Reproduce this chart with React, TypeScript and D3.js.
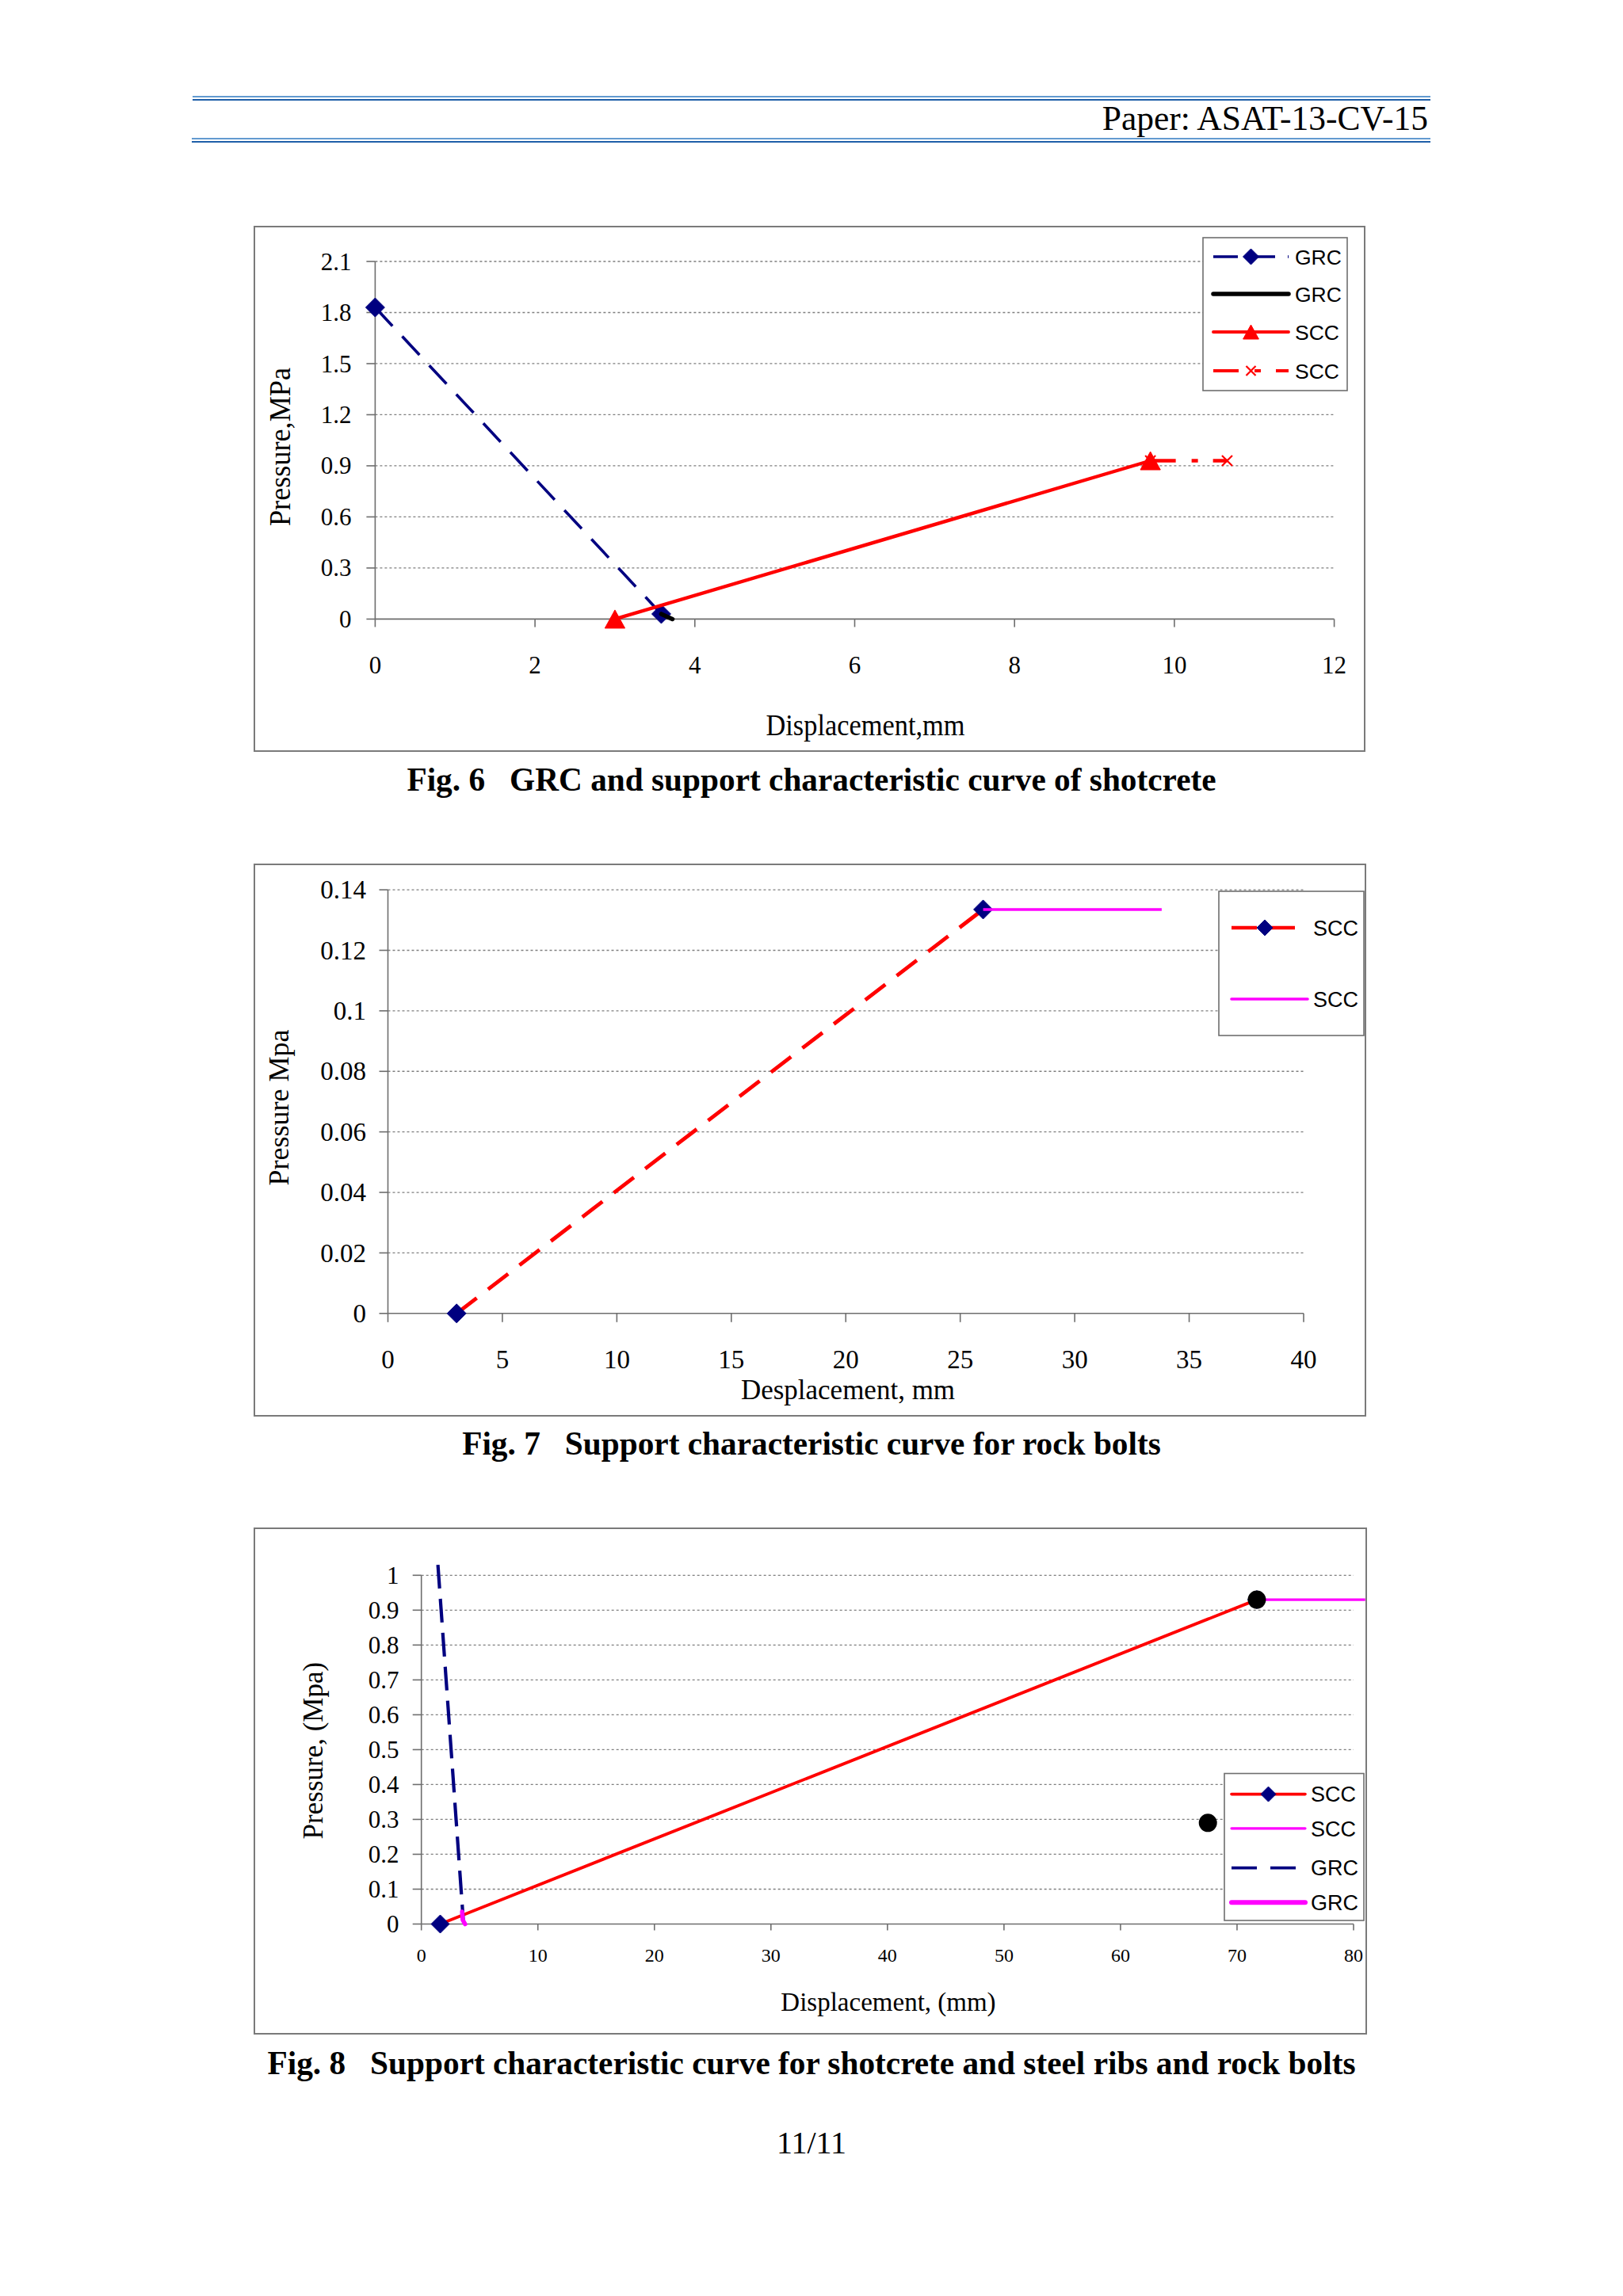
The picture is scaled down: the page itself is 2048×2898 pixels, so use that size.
import * as d3 from "d3";
import React from "react";

const SERIF = "'Liberation Serif', 'Times New Roman', serif";
const SANS = "'Liberation Sans', Arial, sans-serif";
const NAVY = "#000080";
const RED = "#ff0000";
const MAGENTA = "#ff00ff";

// ---- Fig. 6 data
const fig6XTicks = [0, 2, 4, 6, 8, 10, 12];
const fig6YTicks = [0, 0.3, 0.6, 0.9, 1.2, 1.5, 1.8, 2.1];
const fig6GrcX = [0, 3.58];
const fig6GrcY = [1.83, 0.03];
const fig6GrcTailX = [3.58, 3.72];
const fig6GrcTailY = [0.03, 0];
const fig6SccX = [3, 9.7];
const fig6SccY = [0, 0.93];
const fig6SccCapX = [9.7, 10.66];
const fig6SccCapY = [0.93, 0.93];
const fig6Labels = ["GRC", "GRC", "SCC", "SCC"];

// ---- Fig. 7 data
const fig7XTicks = [0, 5, 10, 15, 20, 25, 30, 35, 40];
const fig7YTicks = [0, 0.02, 0.04, 0.06, 0.08, 0.1, 0.12, 0.14];
const fig7SccX = [3, 26];
const fig7SccY = [0, 0.1335];
const fig7PlateauX = [26, 33.8];
const fig7PlateauY = [0.1335, 0.1335];
const fig7Labels = ["SCC", "SCC"];

// ---- Fig. 8 data
const fig8XTicks = [0, 10, 20, 30, 40, 50, 60, 70, 80];
const fig8YTicks = [0, 0.1, 0.2, 0.3, 0.4, 0.5, 0.6, 0.7, 0.8, 0.9, 1];
const fig8SccX = [1.62, 71.7];
const fig8SccY = [0, 0.93];
const fig8PlateauX = [71.7, 81];
const fig8PlateauY = [0.93, 0.93];
const fig8GrcX = [1.42, 3.6];
const fig8GrcY = [1.03, 0.01];
const fig8GrcTailX = [3.5, 3.55, 3.75];
const fig8GrcTailY = [0.035, 0.012, 0];
const fig8DotX = [71.7, 67.5];
const fig8DotY = [0.93, 0.29];
const fig8Labels = ["SCC", "SCC", "GRC", "GRC"];

type Marker = "diamond" | "triangle" | "cross";

type Series = {
  xs: number[];
  ys: number[];
  color: string;
  width: number;
  dash?: string;
  cap?: "butt" | "round";
  marker?: Marker;
  markerColor?: string;
  markerSize?: number;
};

type LegendItem = {
  label: string;
  color: string;
  width: number;
  dash?: string;
  cap?: "butt" | "round";
  marker?: Marker;
  markerColor?: string;
  markerSize?: number;
  y: number;
  x0: number;
  x1: number;
};

type Title = { text: string; x: number; y: number; size: number; length?: number };

type ChartProps = {
  box: { x: number; y: number; w: number; h: number };
  xDomain: [number, number];
  yDomain: [number, number];
  xPx: [number, number];
  yPx: [number, number];
  xTicks: number[];
  yTicks: number[];
  xTickLen: number;
  yTickLen: number;
  xTickFont: number;
  xTickBase: number;
  yTickFont: number;
  yTickRight: number;
  xTitle: Title;
  yTitle: Title;
  series: Series[];
  dots?: { xs: number[]; ys: number[]; r: number };
  legend: { x: number; y: number; w: number; h: number; textX: number; font: number; items: LegendItem[] };
  caption: { text: string; y: number };
};

function markerPath(type: Marker, cx: number, cy: number, s: number) {
  const p = d3.path();
  if (type === "diamond") {
    p.moveTo(cx, cy - s);
    p.lineTo(cx + s, cy);
    p.lineTo(cx, cy + s);
    p.lineTo(cx - s, cy);
    p.closePath();
  } else if (type === "triangle") {
    const w = s * 1.1;
    p.moveTo(cx, cy - s);
    p.lineTo(cx + w, cy + s);
    p.lineTo(cx - w, cy + s);
    p.closePath();
  } else {
    p.moveTo(cx - s, cy - s);
    p.lineTo(cx + s, cy + s);
    p.moveTo(cx + s, cy - s);
    p.lineTo(cx - s, cy + s);
  }
  return p.toString();
}

function MarkerShape({ type, cx, cy, size, color }: { type: Marker; cx: number; cy: number; size: number; color: string }) {
  if (type === "cross") {
    return <path d={markerPath(type, cx, cy, size)} stroke={color} strokeWidth={2.2} fill="none" />;
  }
  return <path d={markerPath(type, cx, cy, size)} fill={color} stroke={color} strokeWidth={1} />;
}

function Chart(props: ChartProps) {
  const { box, xTicks, yTicks, series, legend } = props;
  const x = d3.scaleLinear().domain(props.xDomain).range(props.xPx);
  const y = d3.scaleLinear().domain(props.yDomain).range(props.yPx);
  const x0 = x(props.xDomain[0]);
  const xEnd = x(props.xDomain[1]);
  const y0 = y(props.yDomain[0]);
  const yTop = y(props.yDomain[1]);

  const line = (s: Series) =>
    d3
      .line<number>()
      .x((_, i) => x(s.xs[i]))
      .y((_, i) => y(s.ys[i]))(s.xs) ?? "";

  return (
    <g>
      <rect x={box.x} y={box.y} width={box.w} height={box.h} fill="#fff" stroke="#7a7a7a" strokeWidth={2} />

      {/* gridlines */}
      {yTicks
        .filter((v) => v !== props.yDomain[0])
        .map((v) => (
          <line key={`g${v}`} x1={x0} x2={xEnd} y1={y(v)} y2={y(v)} stroke="#7f7f7f" strokeWidth={1.3} strokeDasharray="3 3" />
        ))}

      {/* axes */}
      <line x1={x0} x2={x0} y1={y0} y2={yTop} stroke="#6e6e6e" strokeWidth={1.6} />
      <line x1={x0} x2={xEnd} y1={y0} y2={y0} stroke="#6e6e6e" strokeWidth={1.6} />
      {yTicks.map((v) => (
        <line key={`yt${v}`} x1={x0 - props.yTickLen} x2={x0} y1={y(v)} y2={y(v)} stroke="#6e6e6e" strokeWidth={1.6} />
      ))}
      {xTicks.map((v) => (
        <line key={`xt${v}`} x1={x(v)} x2={x(v)} y1={y0} y2={y0 + props.xTickLen} stroke="#6e6e6e" strokeWidth={1.6} />
      ))}

      {/* tick labels */}
      {yTicks.map((v) => (
        <text
          key={`yl${v}`}
          x={props.yTickRight}
          y={y(v) + props.yTickFont * 0.34}
          textAnchor="end"
          fontFamily={SERIF}
          fontSize={props.yTickFont}
        >
          {String(v)}
        </text>
      ))}
      {xTicks.map((v) => (
        <text key={`xl${v}`} x={x(v)} y={props.xTickBase} textAnchor="middle" fontFamily={SERIF} fontSize={props.xTickFont}>
          {String(v)}
        </text>
      ))}

      {/* series */}
      {series.map((s, i) => (
        <g key={`s${i}`}>
          <path
            d={line(s)}
            fill="none"
            stroke={s.color}
            strokeWidth={s.width}
            strokeDasharray={s.dash}
            strokeLinecap={s.cap ?? "butt"}
            strokeLinejoin="round"
          />
          {s.marker &&
            s.xs.map((xv, j) => (
              <MarkerShape
                key={j}
                type={s.marker as Marker}
                cx={x(xv)}
                cy={y(s.ys[j])}
                size={s.markerSize ?? 10}
                color={s.markerColor ?? s.color}
              />
            ))}
        </g>
      ))}

      {props.dots &&
        props.dots.xs.map((xv, i) => <circle key={`d${i}`} cx={x(xv)} cy={y(props.dots!.ys[i])} r={props.dots!.r} fill="#000" />)}

      {/* legend */}
      <rect x={legend.x} y={legend.y} width={legend.w} height={legend.h} fill="#fff" stroke="#6e6e6e" strokeWidth={1.6} />
      {legend.items.map((it, i) => (
        <g key={`l${i}`}>
          <line
            x1={it.x0}
            x2={it.x1}
            y1={it.y}
            y2={it.y}
            stroke={it.color}
            strokeWidth={it.width}
            strokeDasharray={it.dash}
            strokeLinecap={it.cap ?? "butt"}
          />
          {it.marker && (
            <MarkerShape
              type={it.marker}
              cx={(it.x0 + it.x1) / 2}
              cy={it.y}
              size={it.markerSize ?? 9}
              color={it.markerColor ?? it.color}
            />
          )}
          <text x={legend.textX} y={it.y + legend.font * 0.36} fontFamily={SANS} fontSize={legend.font}>
            {it.label}
          </text>
        </g>
      ))}

      {/* titles */}
      <text
        x={props.xTitle.x}
        y={props.xTitle.y}
        textAnchor="middle"
        fontFamily={SERIF}
        fontSize={props.xTitle.size}
        textLength={props.xTitle.length}
        lengthAdjust="spacingAndGlyphs"
      >
        {props.xTitle.text}
      </text>
      <text
        transform={`translate(${props.yTitle.x},${props.yTitle.y}) rotate(-90)`}
        textAnchor="middle"
        fontFamily={SERIF}
        fontSize={props.yTitle.size}
        textLength={props.yTitle.length}
        lengthAdjust="spacingAndGlyphs"
      >
        {props.yTitle.text}
      </text>

      <text
        x={1024}
        y={props.caption.y}
        textAnchor="middle"
        fontFamily={SERIF}
        fontWeight="bold"
        fontSize={41.3}
        style={{ whiteSpace: "pre" }}
      >
        {props.caption.text}
      </text>
    </g>
  );
}

export default function App() {
  const fig6Series: Series[] = [
    { xs: fig6GrcX, ys: fig6GrcY, color: NAVY, width: 3.6, dash: "32 18", marker: "diamond", markerSize: 12 },
    { xs: fig6GrcTailX, ys: fig6GrcTailY, color: "#000", width: 5.5, cap: "round" },
    { xs: fig6SccX, ys: fig6SccY, color: RED, width: 4.4, marker: "triangle", markerSize: 11.5 },
    { xs: fig6SccCapX, ys: fig6SccCapY, color: RED, width: 4.4, dash: "32 20 8 19", marker: "cross", markerSize: 6.5 },
  ];
  const fig6Styles = [
    { color: NAVY, width: 3.5, dash: "31 16", marker: "diamond" as Marker, markerSize: 10 },
    { color: "#000", width: 5.5, cap: "round" as const },
    { color: RED, width: 3.9, cap: "round" as const, marker: "triangle" as Marker, markerSize: 9 },
    { color: RED, width: 3.9, dash: "32 20 8 19", marker: "cross" as Marker, markerSize: 6 },
  ];
  const fig6LegendY = [324, 371, 419, 468];

  const fig7Series: Series[] = [
    { xs: fig7SccX, ys: fig7SccY, color: RED, width: 4.8, dash: "32 18", marker: "diamond", markerColor: NAVY, markerSize: 12 },
    { xs: fig7PlateauX, ys: fig7PlateauY, color: MAGENTA, width: 3.6 },
  ];
  const fig7Styles = [
    { color: RED, width: 4.5, dash: "32 16", marker: "diamond" as Marker, markerColor: NAVY, markerSize: 10 },
    { color: MAGENTA, width: 3.6, cap: "round" as const },
  ];
  const fig7LegendY = [1171, 1261];

  const fig8Series: Series[] = [
    { xs: fig8SccX, ys: fig8SccY, color: RED, width: 3.9, marker: "diamond", markerColor: NAVY, markerSize: 11.5 },
    { xs: fig8PlateauX, ys: fig8PlateauY, color: MAGENTA, width: 3.4 },
    { xs: fig8GrcX, ys: fig8GrcY, color: NAVY, width: 4.2, dash: "30 13" },
    { xs: fig8GrcTailX, ys: fig8GrcTailY, color: MAGENTA, width: 5.5, cap: "round" },
  ];
  const fig8Styles = [
    { color: RED, width: 3.6, cap: "round" as const, marker: "diamond" as Marker, markerColor: NAVY, markerSize: 9.5 },
    { color: MAGENTA, width: 3.2, cap: "round" as const },
    { color: NAVY, width: 3.8, dash: "32 17" },
    { color: MAGENTA, width: 6, cap: "round" as const },
  ];
  const fig8LegendY = [2264.6, 2307.8, 2357.7, 2401.3];

  return (
    <div style={{ position: "absolute", left: 0, top: 0 }}>
      <svg width={2048} height={2898} viewBox="0 0 2048 2898">
        <rect x={0} y={0} width={2048} height={2898} fill="#fff" />

        {/* page header */}
        <line x1={243} x2={1805} y1={122} y2={122} stroke="#2f78c0" strokeWidth={1.5} />
        <line x1={243} x2={1805} y1={126} y2={126} stroke="#1f5fa8" strokeWidth={1.8} />
        <line x1={242} x2={1805} y1={175} y2={175} stroke="#2f78c0" strokeWidth={1.5} />
        <line x1={242} x2={1805} y1={179} y2={179} stroke="#1f5fa8" strokeWidth={1.8} />
        <text x={1802} y={164} textAnchor="end" fontFamily={SERIF} fontSize={43.5}>
          Paper: ASAT-13-CV-15
        </text>

        <Chart
          box={{ x: 321, y: 286, w: 1401, h: 662 }}
          xDomain={[0, 12]}
          yDomain={[0, 2.1]}
          xPx={[473.4, 1683.6]}
          yPx={[781.4, 330]}
          xTicks={fig6XTicks}
          yTicks={fig6YTicks}
          xTickLen={10}
          yTickLen={11}
          xTickFont={31}
          xTickBase={850}
          yTickFont={31}
          yTickRight={443.5}
          xTitle={{ text: "Displacement,mm", x: 1092, y: 928, size: 37, length: 251 }}
          yTitle={{ text: "Pressure,MPa", x: 366, y: 564, size: 38, length: 200 }}
          series={fig6Series}
          legend={{
            x: 1518,
            y: 300,
            w: 182,
            h: 193,
            textX: 1634,
            font: 26.5,
            items: fig6Labels.map((label, i) => ({ label, y: fig6LegendY[i], x0: 1531, x1: 1626, ...fig6Styles[i] })),
          }}
          caption={{ text: "Fig. 6   GRC and support characteristic curve of shotcrete", y: 998 }}
        />

        <Chart
          box={{ x: 321, y: 1091, w: 1402, h: 696 }}
          xDomain={[0, 40]}
          yDomain={[0, 0.14]}
          xPx={[489.5, 1645]}
          yPx={[1657.8, 1123.1]}
          xTicks={fig7XTicks}
          yTicks={fig7YTicks}
          xTickLen={11}
          yTickLen={11}
          xTickFont={33}
          xTickBase={1727}
          yTickFont={33}
          yTickRight={462}
          xTitle={{ text: "Desplacement, mm", x: 1070, y: 1766, size: 35 }}
          yTitle={{ text: "Pressure Mpa", x: 364, y: 1398, size: 36 }}
          series={fig7Series}
          legend={{
            x: 1538,
            y: 1125,
            w: 183,
            h: 182,
            textX: 1657,
            font: 27,
            items: fig7Labels.map((label, i) => ({ label, y: fig7LegendY[i], x0: 1554, x1: i === 0 ? 1638 : 1650, ...fig7Styles[i] })),
          }}
          caption={{ text: "Fig. 7   Support characteristic curve for rock bolts", y: 1836 }}
        />

        <Chart
          box={{ x: 321, y: 1929, w: 1403, h: 638 }}
          xDomain={[0, 80]}
          yDomain={[0, 1]}
          xPx={[531.7, 1708]}
          yPx={[2428.5, 1988.3]}
          xTicks={fig8XTicks}
          yTicks={fig8YTicks}
          xTickLen={8}
          yTickLen={11}
          xTickFont={24}
          xTickBase={2476}
          yTickFont={31}
          yTickRight={503.6}
          xTitle={{ text: "Displacement, (mm)", x: 1121, y: 2538, size: 33 }}
          yTitle={{ text: "Pressure, (Mpa)", x: 407, y: 2209.6, size: 35 }}
          series={fig8Series}
          dots={{ xs: fig8DotX, ys: fig8DotY, r: 11.5 }}
          legend={{
            x: 1545,
            y: 2238.5,
            w: 176,
            h: 185.5,
            textX: 1654,
            font: 27,
            items: fig8Labels.map((label, i) => ({ label, y: fig8LegendY[i], x0: 1554, x1: 1647, ...fig8Styles[i] })),
          }}
          caption={{ text: "Fig. 8   Support characteristic curve for shotcrete and steel ribs and rock bolts", y: 2618 }}
        />

        <text x={1024} y={2718} textAnchor="middle" fontFamily={SERIF} fontSize={40}>
          11/11
        </text>
      </svg>
    </div>
  );
}
